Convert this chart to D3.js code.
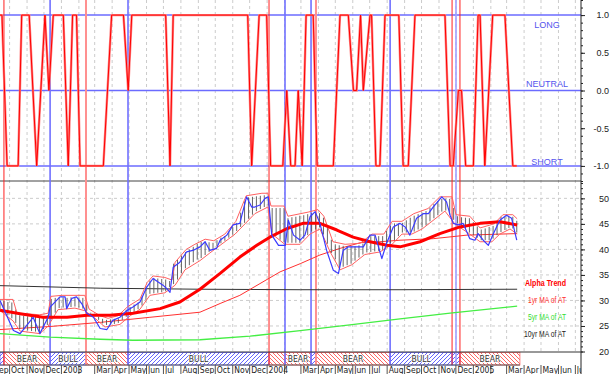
<!DOCTYPE html>
<html>
<head>
<meta charset="utf-8">
<script src="https://cdn.jsdelivr.net/npm/d3@7"></script>
<style>
  body { margin: 0; background: #fff; }
  svg { display: block; font-family: "Liberation Sans", Arial, sans-serif; }
  .narrow { font-family: "Liberation Sans Narrow", "Arial Narrow", "DejaVu Sans Condensed", sans-serif; }
</style>
</head>
<body>
<svg id="chart" width="610" height="374"></svg>
<script>
// ---- data (weeks counted from baseDate) ----
const baseDate = new Date(2002, 8, 14);
const endDate = new Date(2005, 6, 11);

const monthLabels = ["Sep","Oct","Nov","Dec","2003","","Mar","Apr","May","Jun","Jul","Aug",
  "Sep","Oct","Nov","Dec","2004","","Mar","Apr","May","Jun","Jul","Aug",
  "Sep","Oct","Nov","Dec","2005","","Mar","Apr","May","Jun","Jul"];

const topTicks = [-1, -0.5, 0, 0.5, 1];
const botTicks = [20, 25, 30, 35, 40, 45, 50];
const levelValues = [1, 0, -1];
const levelNames = ["LONG", "NEUTRAL", "SHORT"];

// alpha trend position signal: [week, value]
const positionSignal = [[0,1],[0.5,1],[1.8,-1],[4.6,-1],[5.5,1],[7.4,1],[9.3,-1],[11.4,1],[12.4,0],[13.5,1],
  [16.05,1],[17.3,-1],[18.4,1],[19.4,1],[20.3,-1],[26.2,-1],[28.3,1],[31.3,1],[32.5,0],[33.4,1],
  [42.0,1],[43.1,-1],[43.9,1],[62.8,1],[63.8,-1],[65.7,1],[67.6,1],[68.6,-1],[71.7,-1],[72.7,0],
  [73.7,-1],[74.8,-1],[75.6,0],[76.6,-1],[77.6,1],[79.4,1],[80.4,-1],[84.5,-1],[86.2,1],[88.3,1],
  [89.6,0],[90.4,0],[91.4,1],[92.1,0],[93.8,1],[94.2,1],[95.3,-1],[96.3,-1],[97.6,1],[101.1,1],
  [102.2,-1],[103.5,-1],[105.2,1],[112.8,1],[114.1,-1],[114.9,-1],[116.2,0],[117.0,0],[118.05,-1],[120.0,-1],
  [121.2,1],[121.7,1],[122.9,-1],[124.9,1],[128.0,1],[130.0,-1],[131.0,-1]];

// buy / sell signal lines: [week, kind]
const signalLines = [[1.0,"sell"],[12.7,"buy"],[21.8,"sellLight"],[32.45,"buy"],[68.2,"sell"],
  [72.25,"buy"],[78.85,"buy"],[80.1,"sellLight"],[98.9,"buy"],[114.6,"sell"],[115.6,"buyLight"],[116.6,"sell"]];

// regime strip: [startWeek, endWeek, kind, label]
const regimes = [[0,1.0,"bull",""],[1.0,12.7,"bear","BEAR"],[12.7,21.8,"bull","BULL"],[21.8,32.45,"bear","BEAR"],
  [32.45,68.2,"bull","BULL"],[68.2,72.25,"bear",""],[72.25,78.85,"bear","BEAR"],[78.85,80.1,"bull",""],
  [80.1,98.9,"bear","BEAR"],[98.9,114.6,"bull","BULL"],[114.6,116.6,"bull",""],[116.6,131.8,"bear","BEAR"]];

// price (blue) line: [week, value]
const closeLine = [[0,30.0],[3.4,24.1],[5.1,23.5],[8.4,26.7],[10.1,23.5],[12.2,26.7],[12.7,28.7],[15.2,30.7],
  [16.5,30.7],[16.9,28.4],[18.2,30.4],[19.4,30.7],[20.7,29.4],[22.0,27.5],[23.7,26.7],[25.4,24.5],[27.1,24.3],
  [28.6,26.1],[30.4,26.7],[32.1,28.0],[33.7,28.7],[35.5,29.7],[37.2,32.6],[38.8,34.3],[40.1,33.6],[41.3,33.0],
  [42.3,32.3],[43.1,31.6],[43.9,36.5],[45.6,37.5],[47.3,39.5],[48.9,39.8],[50.7,40.5],[52.0,41.5],[53.2,39.8],
  [54.9,40.2],[55.8,41.8],[57.5,42.8],[59.1,44.8],[60.8,45.1],[62.5,50.3],[63.8,48.3],[64.6,48.3],[65.9,48.7],
  [67.2,50.0],[68.0,50.3],[68.9,42.8],[70.6,40.8],[72.3,40.8],[73.1,45.7],[74.4,42.8],[76.1,41.8],[77.3,42.8],
  [78.6,46.4],[79.9,47.4],[81.1,45.1],[82.8,39.8],[84.5,35.9],[85.8,35.3],[87.0,39.8],[88.3,40.5],[90.4,40.5],
  [92.1,40.5],[93.8,42.8],[95.1,42.8],[96.8,38.2],[98.0,41.2],[99.7,44.4],[101.4,45.1],[102.7,44.4],[103.9,42.8],
  [105.6,46.1],[107.3,47.0],[108.6,47.0],[109.8,48.3],[112.0,50.3],[113.2,49.3],[114.1,46.7],[114.9,45.1],
  [116.2,44.8],[117.4,45.1],[119.1,42.1],[120.4,41.8],[121.2,43.1],[122.5,41.8],[123.8,40.8],[125.1,43.1],
  [126.7,45.7],[128.4,46.7],[129.7,46.1],[130.6,43.1],[131.0,41.8]];

const upperBand = [[0,30.2],[3.3,30.2],[4.3,27.5],[10.1,27.2],[12.2,27.5],[12.9,30.8],[15.7,31.0],[21.5,31.0],
  [22.6,28.3],[25.4,27.0],[27.4,26.5],[29.9,27.0],[32.4,28.8],[35.5,30.3],[37.3,33.5],[38.8,34.8],[41.8,34.5],
  [43.6,34.0],[44.4,37.5],[47.2,40.0],[49.4,41.0],[52.0,42.0],[54.2,41.7],[57.0,43.0],[59.8,45.5],[62.4,50.5],
  [66.4,51.0],[67.9,51.0],[68.7,48.5],[72.0,48.5],[73.0,46.5],[78.1,47.3],[80.6,47.8],[82.1,46.5],[84.4,41.5],
  [87.5,41.0],[91.3,41.2],[94.3,43.0],[97.3,43.0],[99.4,45.5],[101.9,45.5],[104.9,47.0],[108.5,48.0],[111.5,50.3],
  [114.6,50.3],[115.6,46.8],[119.1,46.5],[121.7,44.2],[125.2,45.0],[127.5,46.8],[130.0,46.8],[131.1,46.0]];

const lowerBand = [[0,28.0],[3.3,26.0],[5.1,24.0],[10.1,23.5],[12.2,25.0],[14.7,28.2],[19.0,28.5],[21.5,28.0],
  [24.1,26.5],[26.6,24.8],[30.4,25.3],[33.0,27.0],[35.5,28.3],[38.0,31.0],[41.8,31.5],[44.4,33.0],[46.9,36.0],
  [50.7,37.8],[53.2,39.3],[55.8,40.8],[59.6,43.0],[62.1,45.0],[64.6,47.0],[67.9,48.3],[69.0,43.0],[72.2,41.0],
  [76.1,41.0],[78.6,43.0],[81.1,44.0],[83.7,39.5],[86.2,36.0],[89.2,37.0],[92.5,39.0],[96.3,39.5],[99.4,41.0],
  [101.9,43.0],[104.4,43.0],[107.0,44.0],[109.5,45.5],[112.8,47.5],[115.3,45.0],[119.1,43.0],[121.7,41.5],
  [124.7,41.5],[126.7,43.0],[129.3,44.0],[131.1,43.0]];

// weekly range bars, one per week
const barHi = [29.8,29.9,29.7,29.6,28.2,27.1,27.0,26.9,26.8,26.8,
  26.7,26.9,27.1,30.3,30.5,30.6,30.6,30.5,30.6,30.5,
  30.6,30.5,29.2,27.6,27.2,26.8,26.4,26.2,26.3,26.4,
  26.5,27.4,28.2,28.7,29.2,29.6,30.8,32.8,33.9,34.4,
  34.3,34.2,34.1,33.8,37.2,38.0,38.8,39.5,40.0,40.5,
  41.1,41.5,41.5,41.4,41.3,41.8,42.3,42.6,43.5,44.4,
  45.2,47.2,49.4,50.2,50.3,50.4,50.5,50.6,50.6,48.1,
  48.1,48.1,48.1,46.1,46.3,46.4,46.6,46.7,46.9,47.1,
  47.3,47.1,46.2,44.2,41.9,41.0,40.8,40.7,40.6,40.6,
  40.6,40.8,41.1,41.8,42.6,42.6,42.6,42.6,43.6,44.6,
  45.1,45.1,45.2,45.7,46.2,46.6,46.9,47.2,47.5,48.2,
  48.9,49.5,49.9,49.9,49.9,48.1,46.5,46.3,46.2,46.1,
  45.3,44.5,43.9,44.1,44.4,44.6,45.4,46.4,46.4,46.4,
  46.4,45.6];
const barLo = [28.3,27.7,27.1,26.5,25.6,24.4,24.2,24.1,24.0,23.9,
  23.8,24.4,25.2,26.3,27.6,28.5,28.6,28.7,28.7,28.8,
  28.6,28.4,28.0,27.4,26.9,26.2,25.5,25.2,25.3,25.4,
  25.6,26.2,26.8,27.3,27.8,28.3,29.0,30.1,31.3,31.4,
  31.5,31.6,31.8,32.6,33.2,34.1,35.3,36.3,36.9,37.5,
  38.0,38.3,38.9,39.5,40.1,40.6,41.2,41.7,42.3,42.9,
  43.6,44.4,45.2,46.0,46.8,47.5,47.9,48.3,48.6,43.3,
  42.7,41.9,41.4,41.3,41.3,41.3,41.3,42.1,42.8,43.5,
  43.9,44.3,42.9,41.1,39.3,38.1,36.5,36.6,36.9,37.2,
  37.8,38.4,39.0,39.4,39.5,39.6,39.7,39.9,40.6,41.2,
  41.8,42.6,43.3,43.3,43.3,43.5,43.9,44.3,44.7,45.5,
  46.1,46.7,47.4,47.6,46.8,45.8,45.1,44.5,43.9,43.3,
  42.8,42.3,41.8,41.8,41.8,42.1,42.8,43.4,43.8,44.2,
  44.1,43.3];

const alphaTrend = [[0,28.1],[5.1,27.4],[10.9,26.7],[17.0,26.7],[22.1,27.1],[27.9,27.1],[33.7,27.5],[40.6,28.4],
  [45.6,29.7],[50.7,32.2],[55.8,35.3],[60.8,38.5],[65.1,40.8],[68.4,42.4],[72.8,44.1],[76.8,45.1],[81.1,45.1],
  [85.4,43.8],[89.5,42.4],[93.8,41.5],[98.1,40.8],[101.4,40.5],[106.5,41.5],[111.5,43.1],[116.6,44.4],
  [121.7,45.1],[126.7,45.4],[131.1,44.8]];
const ma1yr = [[0,24.3],[12.7,24.9],[25.4,25.7],[38.0,26.7],[50.7,27.7],[55.8,29.4],[60.8,31.0],[65.9,33.3],
  [71.0,35.6],[76.1,37.2],[81.1,38.9],[86.2,40.2],[91.3,41.3],[96.3,41.5],[101.4,41.8],[109.8,42.1],[118.4,42.8],[131.1,43.1]];
const ma5yr = [[0,23.5],[12.7,22.8],[25.4,22.4],[33.7,22.2],[50.7,22.3],[63.4,23.0],[76.1,24.1],[88.7,25.2],
  [101.4,26.4],[114.1,27.5],[131.1,28.9]];
const ma10yr = [[0,32.9],[25.4,32.4],[50.7,32.2],[76.1,32.1],[101.4,32.1],[131.1,32.2]];

const legendNames = ["Alpha Trend", "1yr MA of AT", "5yr MA of AT", "10yr MA of AT"];

// ---- drawing ----
const svg = d3.select("#chart");
const plotW = 581;
const wkDate = w => new Date(baseDate.getTime() + w * 7 * 864e5);

const x = d3.scaleTime().domain([baseDate, endDate]).range([0, plotW]);
const yTop = d3.scaleLinear().domain([-1.2, 1.2]).range([181, 0]);
const yBot = d3.scaleLinear().domain([20, 53.4]).range([351.5, 181]);
const xw = w => x(wkDate(w));

const months = d3.timeMonth.range(new Date(2002, 8, 1), new Date(2005, 7, 1));

// hatch patterns
const defs = svg.append("defs");
function hatch(id, color, back) {
  defs.append("pattern").attr("id", id).attr("patternUnits", "userSpaceOnUse")
    .attr("width", 4).attr("height", 4)
    .append("path")
    .attr("d", back ? "M-1,3 l2,2 M0,0 l4,4 M3,-1 l2,2" : "M-1,1 l2,-2 M0,4 l4,-4 M3,5 l2,-2")
    .attr("stroke", color).attr("stroke-width", 1);
}
hatch("bearHatch", "#ff6464", true);
hatch("bullHatch", "#6464ff", false);
defs.append("clipPath").attr("id", "plotClip").append("rect").attr("x", 0).attr("y", 0).attr("width", plotW).attr("height", 374);

// grid
svg.append("g").selectAll("line").data(months).join("line")
  .attr("x1", d => x(d)).attr("x2", d => x(d))
  .attr("y1", 0).attr("y2", 352)
  .attr("stroke", "#cccccc").attr("stroke-dasharray", "3,3");
svg.append("g").selectAll("line").data(botTicks.slice(1)).join("line")
  .attr("x1", 0).attr("x2", plotW)
  .attr("y1", d => yBot(d)).attr("y2", d => yBot(d))
  .attr("stroke", "#cccccc").attr("stroke-dasharray", "3,3");

// level lines and labels
svg.append("g").selectAll("line").data(levelValues).join("line")
  .attr("x1", 0).attr("x2", plotW)
  .attr("y1", d => yTop(d)).attr("y2", d => yTop(d))
  .attr("stroke", "#6b6bff").attr("stroke-width", 1.5);
const levelDy = [12.5, -4, -1];
svg.append("g").selectAll("text").data(levelNames).join("text")
  .attr("x", 547).attr("y", (d, i) => yTop(levelValues[i]) + levelDy[i])
  .attr("text-anchor", "middle").attr("font-size", 9).attr("fill", "#5555ee")
  .text(d => d);

// panel separator
svg.append("line").attr("x1", 0).attr("x2", plotW).attr("y1", 181).attr("y2", 181)
  .attr("stroke", "#444").attr("stroke-width", 1);

// regime strip
const strip = svg.append("g");
strip.selectAll("rect").data(regimes).join("rect")
  .attr("x", d => xw(d[0])).attr("width", d => xw(d[1]) - xw(d[0]))
  .attr("y", 352.5).attr("height", 12.5)
  .attr("fill", d => d[2] === "bear" ? "url(#bearHatch)" : "url(#bullHatch)")
  .attr("stroke", d => d[2] === "bear" ? "#ff6464" : "#6464ff").attr("stroke-width", 0.8);
strip.selectAll("text").data(regimes.filter(d => d[3])).join("text")
  .attr("class", "narrow")
  .attr("x", d => (xw(d[0]) + xw(d[1])) / 2).attr("y", 362)
  .attr("text-anchor", "middle").attr("font-size", 8.5).attr("fill", "#333")
  .attr("stroke", "#fff").attr("stroke-width", 1.6).attr("paint-order", "stroke")
  .text(d => d[3]);

// signal vertical lines
const sigStyle = {
  sell: ["#ff2020", 1], sellLight: ["#ff9090", 2],
  buy: ["#7070ff", 1.6], buyLight: ["#a0a0ff", 1.6]
};
svg.append("g").selectAll("line").data(signalLines).join("line")
  .attr("x1", d => xw(d[0])).attr("x2", d => xw(d[0]))
  .attr("y1", 0).attr("y2", 365)
  .attr("stroke", d => sigStyle[d[1]][0]).attr("stroke-width", d => sigStyle[d[1]][1]);

// top panel signal
const topLine = d3.line().x(d => xw(d[0])).y(d => yTop(d[1]));
svg.append("path").datum(positionSignal).attr("d", topLine)
  .attr("fill", "none").attr("stroke", "#ff8585").attr("stroke-width", 2.4);
svg.append("path").datum(positionSignal).attr("d", topLine)
  .attr("fill", "none").attr("stroke", "#ff0000").attr("stroke-width", 1);

// bottom panel
const botLine = d3.line().x(d => xw(d[0])).y(d => yBot(d[1]));
function drawLine(data, color, width) {
  svg.append("path").datum(data).attr("d", botLine)
    .attr("fill", "none").attr("stroke", color).attr("stroke-width", width)
    .attr("stroke-linejoin", "round");
}
drawLine(ma10yr, "#333", 1);
drawLine(ma5yr, "#44ee44", 1.3);
drawLine(ma1yr, "#ff3030", 1);

svg.append("g").selectAll("line").data(barHi).join("line")
  .attr("x1", (d, i) => xw(i)).attr("x2", (d, i) => xw(i))
  .attr("y1", d => yBot(d)).attr("y2", (d, i) => yBot(barLo[i]))
  .attr("stroke", "#555").attr("stroke-width", 0.9);

drawLine(upperBand, "#ff6060", 1);
drawLine(lowerBand, "#ff6060", 1);
drawLine(alphaTrend, "#ff0000", 3);
drawLine(closeLine, "#3a3aff", 1.2);

// legend
const legendColors = ["#ff0000", "#ff3030", "#33dd33", "#222"];
const legendWidths = [41, 38, 38, 42];
svg.append("g").selectAll("text").data(legendNames).join("text")
  .attr("x", 566).attr("y", (d, i) => 286 + i * 17)
  .attr("text-anchor", "end").attr("font-size", 9)
  .attr("font-weight", (d, i) => i === 0 ? "bold" : "normal")
  .attr("fill", (d, i) => legendColors[i])
  .attr("textLength", (d, i) => legendWidths[i]).attr("lengthAdjust", "spacingAndGlyphs")
  .text(d => d);

// right axes
const axisG = svg.append("g").attr("transform", `translate(${plotW},0)`);
axisG.append("line").attr("y1", 0).attr("y2", 352).attr("stroke", "#222");
axisG.append("g").call(d3.axisRight(yTop).tickValues(d3.range(-12, 13).map(v => v / 10)).tickSize(2).tickFormat(""));
axisG.append("g").call(d3.axisRight(yTop).tickValues(topTicks).tickSize(4).tickFormat(d => d.toFixed(1)));
axisG.append("g").call(d3.axisRight(yBot).tickValues(d3.range(20, 54)).tickSize(2).tickFormat(""));
axisG.append("g").call(d3.axisRight(yBot).tickValues(botTicks).tickSize(4).tickFormat(d => d));
axisG.selectAll(".domain").remove();
axisG.selectAll(".tick line").attr("stroke", "#222");
axisG.selectAll(".tick text").attr("x", 28).attr("text-anchor", "end")
  .attr("font-size", 9).attr("font-family", "Liberation Sans, Arial, sans-serif").attr("fill", "#222");

// bottom axis line and month row
svg.append("line").attr("x1", 0).attr("x2", plotW).attr("y1", 352).attr("y2", 352).attr("stroke", "#333");
svg.append("line").attr("x1", 0).attr("x2", xw(131.8)).attr("y1", 365).attr("y2", 365).attr("stroke", "#555");
const monthRow = svg.append("g").attr("clip-path", "url(#plotClip)");
monthRow.selectAll("line").data(months).join("line")
  .attr("x1", d => x(d)).attr("x2", d => x(d))
  .attr("y1", 365).attr("y2", 374).attr("stroke", "#555");
monthRow.selectAll("text").data(months).join("text")
  .attr("class", "narrow")
  .attr("x", d => x(d) + 1.5).attr("y", 373)
  .attr("font-size", 8.5).attr("fill", "#222")
  .text((d, i) => monthLabels[i]);
svg.append("line").attr("x1", plotW).attr("x2", plotW).attr("y1", 352).attr("y2", 374).attr("stroke", "#222");
</script>
</body>
</html>
